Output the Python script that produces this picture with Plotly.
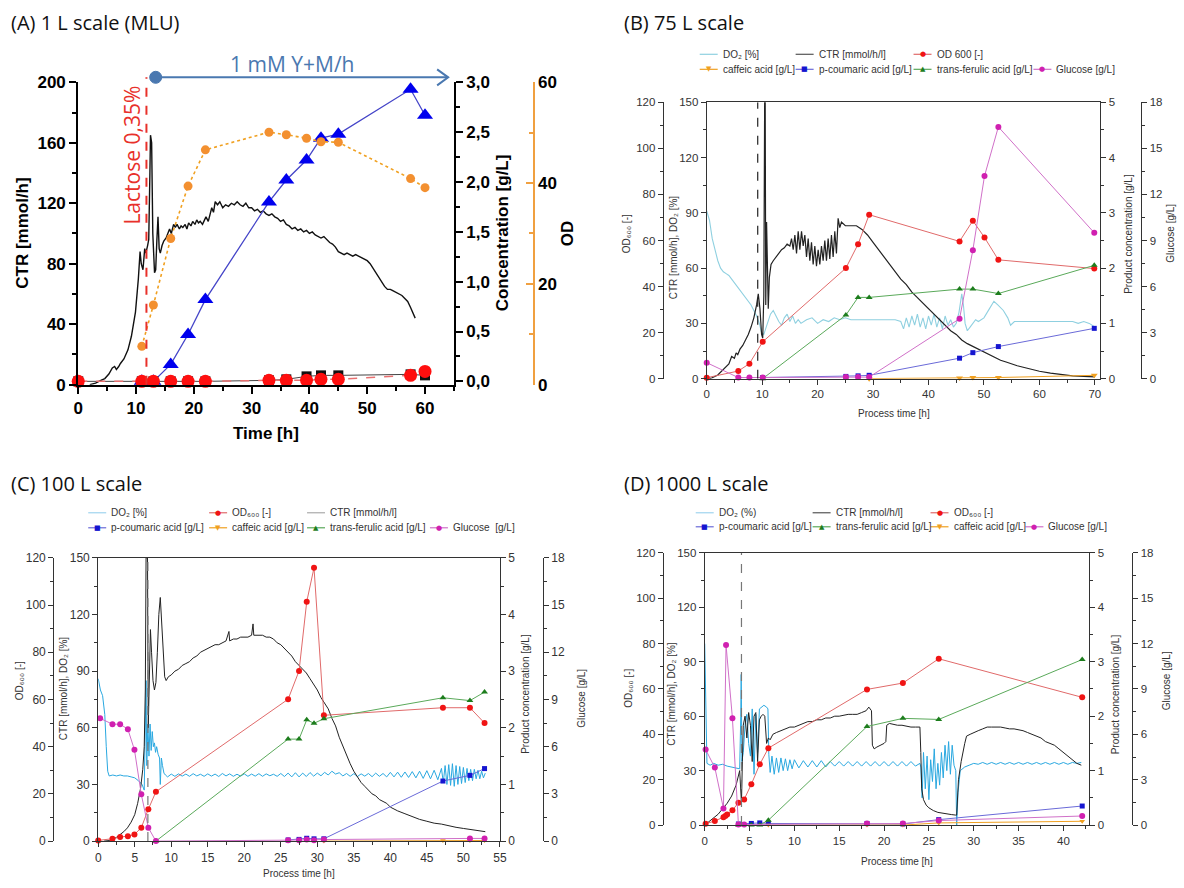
import plotly.graph_objects as go

W, H = 1184, 888

# ======================= DATA =======================
# ---- (A) 1 L scale (MLU) ----
a_ctr = [(2,0),(3,1),(4,3),(4.6,4),(5.3,7),(5.9,11),(6.3,12),(6.6,10),(7.0,12),(7.3,14),(7.9,17),(8.6,23),
         (9.2,32),(9.9,48),(10.4,70),(10.7,88),(10.9,80),(11.2,76),(11.5,90),(11.7,87),(12.0,92),(12.2,96),
         (12.4,140),(12.5,165),(12.7,160),(12.9,100),(13.2,74),(13.4,76),(13.6,95),(13.8,111),(14.0,90),
         (14.2,87),(14.5,92),(14.8,95),(15.2,97),(15.5,100),(15.8,103),(16.1,100),(16.5,106),(16.8,104),
         (17.1,106),(17.5,103),(17.8,105),(18.1,104),(18.5,106),(18.8,103),(19.1,107),(19.5,105),(19.8,108),
         (20.2,106),(20.5,109),(20.8,107),(21.1,108),(21.5,106),(21.8,109),(22.1,111),(22.5,108),(22.8,112),
         (23.1,117),(23.4,114),(23.7,121),(24.1,119),(24.5,121),(25,117),(25.5,119),(26,118),(26.5,120),
         (27,119),(27.5,121),(28,119),(28.5,118),(29,120),(29.5,117),(30,117),(30.5,115),(31,116),(31.5,114),
         (32,115),(32.5,113),(33,112),(33.5,113),(34,111),(34.5,110),(35,108),(35.5,109),(36,106),(36.5,105),
         (37,103),(37.5,104),(38,102),(38.5,103),(39,101),(39.5,102),(40,100),(40.5,101),(41,99),(41.5,98),
         (42,97),(42.5,98),(43,96),(43.5,94),(44,93),(44.5,91),(45,88),(45.5,87),(46,86),(46.5,87),(47,86),
         (47.5,85),(48,86),(48.5,85),(49,84),(49.5,83),(50,82),(50.5,80),(51,77),(51.5,74),(52,71),(52.5,68),
         (53,65),(53.5,63),(54,63),(54.5,62),(55,61),(55.5,60),(56,59),(56.5,57),(57,55),(57.5,51),(58,47),(58.3,44)]
a_t = [0, 11, 13, 16, 19, 22, 33, 36, 39.5, 42, 45, 57.5, 60]
a_red = [0.0, 0.0, 0.0, 0.0, 0.0, 0.0, 0.01, 0.01, 0.01, 0.02, 0.02, 0.06, 0.10]
a_black = [0.0, 0.0, 0.0, 0.0, 0.0, 0.0, 0.01, 0.02, 0.05, 0.06, 0.06, 0.07, 0.06]
a_blue_t = [11, 13, 16, 19, 22, 33, 36, 39.5, 42, 45, 57.5, 60]
a_blue = [0.0, 0.0, 0.17, 0.47, 0.82, 1.80, 2.02, 2.22, 2.44, 2.48, 2.93, 2.67]
a_od_t = [11, 13, 16, 19, 22, 33, 36, 39.5, 42, 45, 57.5, 60]
a_od = [7.6, 15.8, 29.0, 39.4, 46.6, 50.1, 49.6, 48.9, 48.2, 48.1, 40.9, 39.1]
a_lactose_t = 11.8
a_feed_start, a_feed_end = 13.4, 64.0
a_conc_ticks = [0, 0.5, 1.0, 1.5, 2.0, 2.5, 3.0]
a_conc_labels = ['0,0', '0,5', '1,0', '1,5', '2,0', '2,5', '3,0']

# ---- (B) 75 L scale ----
b_do2 = [(0,91),(0.5,86),(1,76),(1.5,70),(2,64),(2.5,60),(3,58),(3.5,57),(4,56),(4.5,54),(5,52),(5.5,50),(6,48),
         (6.5,46),(7,44),(7.5,42),(8,40),(8.5,37),(9,34),(9.5,30),(9.9,25),(10.3,24),(10.6,27),(11,30),(11.5,35),
         (12,37),(12.5,34),(13,31),(13.5,29),(14,33),(14.5,35),(15,31),(15.5,34),(16,30),(16.5,32),(17,30),(18,32),
         (19,33),(20,30),(21,32),(22,31),(23,33),(24,32),(25,33),(26,32),(28,32),(30,32),(32,32),(34,32),(35,31),
         (35.5,27),(36,33),(36.5,28),(37,34),(37.5,29),(38,35),(38.5,28),(39,33),(39.5,27),(40,34),(40.5,29),(41,35),
         (41.5,28),(42,33),(42.5,27),(43,34),(43.5,29),(44,32),(44.5,28),(45,30),(45.5,36),(46,46),(46.3,40),
         (46.6,30),(47,26),(47.5,28),(48,30),(48.5,32),(49,31),(50,33),(51,38),(51.8,42),(52.5,40),(53.5,37),
         (54.3,33),(54.8,29),(55.5,31),(58,31),(62,31),(66,31),(67,30),(68,31),(69,30),(69.5,29),(70,28)]
b_ctr = [(0.5,0),(1,0.5),(2,2),(3,5),(4,8),(4.5,12),(5,11),(5.3,14),(5.6,13),(6,16),(6.5,18),(7,21),(7.5,24),(8,28),
         (8.5,33),(9,40),(9.3,46),(9.6,38),(9.9,24),(10.1,22),(10.3,45),(10.45,150),(10.55,150),(10.65,40),(10.8,85),
         (10.95,62),(11.1,38),(11.3,55),(11.6,62),(12,64),(12.5,66),(13,68),(13.5,70),(14,71),(14.5,73),(15,72),
         (15.3,76),(15.6,70),(15.9,78),(16.2,68),(16.5,80),(16.8,70),(17.1,80),(17.4,72),(17.7,78),(18,66),(18.3,76),
         (18.6,64),(18.9,74),(19.2,62),(19.5,72),(19.8,61),(20.1,70),(20.4,62),(20.7,72),(21,64),(21.3,75),(21.6,64),
         (21.9,76),(22.2,65),(22.5,78),(22.8,66),(23.1,80),(23.4,68),(23.7,87),(24,82),(24.3,85),(25,83),(26,83),
         (27,83),(28,81),(29,78),(30,74),(31,70),(32,66),(33,62),(34,58),(35,54),(36,51),(37,47),(38,44),(39,41),
         (40,38),(41,35),(42,32),(43,29),(44,26),(45,24),(46,21),(47,19),(48,17.5),(49,16),(50,14.5),(51,13),
         (52,11.5),(53,10),(54,9),(55,8),(56,7),(58,5.5),(60,4),(62,3),(64,2.2),(66,1.5),(68,1.2),(70,1)]
b_t = [0, 5.7, 7.7, 10.1, 25.1, 27.3, 29.3, 45.6, 48.0, 50.1, 52.6, 69.9]
b_od = [0.4, 3.3, 6.5, 16, 48, 58.4, 71.2, 59.6, 68.6, 61.3, 51.6, 47.8]
b_glc = [1.04, 0.07, 0.07, 0.07, 0.1, 0.1, 0.1, 3.9, 8.37, 13.2, 16.4, 9.5]
b_prod_t = [10.1, 25.1, 27.3, 29.3, 45.6, 48.0, 52.6, 69.9]
b_cou = [0.02, 0.04, 0.05, 0.06, 0.37, 0.47, 0.58, 0.91]
b_fer = [0.0, 1.15, 1.47, 1.47, 1.62, 1.62, 1.54, 2.05]
b_caf_t = [29.3, 45.6, 48.0, 52.6, 69.9]
b_caf = [0.0, 0.01, 0.02, 0.02, 0.06]
b_induction_t = 9.2

# ---- (C) 100 L scale ----
c_do2 = [(0,86),(0.3,80),(0.6,77),(0.9,67),(1.1,50),(1.3,37),(1.5,34.5),(2,35),(2.5,34.5),(3,35),(3.5,34.5),(4,34.5),
         (4.5,34),(5,33.5),(5.5,32),(6,30),(6.3,27),(6.45,55),(6.55,85),(6.65,40),(6.8,62),(6.95,45),(7.1,62),(7.25,48),
         (7.4,58),(7.55,50),(7.7,52),(7.85,47),(8.0,50),(8.2,46),(8.4,44),(8.5,30),(8.65,44),(8.8,40),(9.0,36),(9.2,35),
         (9.5,34),(10,35.5),(10.5,34.3),(11,35.6),(11.5,34.4),(12,35.5),(12.5,34.3),(13,35.7),(13.5,34.5),(14,35.4),
         (14.5,34.3),(15,35.6),(15.5,34.4),(16,35.5),(16.5,34.2),(17,35.8),(17.5,34.5),(18,35.6),(18.5,34.3),(19,35.4),
         (19.5,34.4),(20,35.6),(20.5,34.3),(21,35.5),(21.5,34.4),(22,35.7),(22.5,34.3),(23,35.6),(23.5,34.6),(24,35.4),
         (24.5,34.3),(25,35.8),(25.5,34.2),(26,36),(26.5,34),(27,36.2),(27.5,34),(28,36),(28.5,34.2),(29,36.3),
         (29.5,34.4),(30,36),(30.5,34.6),(31,36.4),(31.5,35),(32,37),(32.5,35.5),(33,36.2),(33.5,34.5),(34,35.8),
         (34.5,34.3),(35,35.7),(35.5,34.2),(36,35.6),(36.5,34.4),(37,35.8),(37.5,34.1),(38,36),(38.5,34.3),(39,35.8),
         (39.5,34),(40,36.4),(40.5,34),(41,36.5),(41.5,33.8),(42,36.6),(42.5,33.7),(43,36.8),(43.5,33.5),(44,37),
         (44.5,33.2),(45,37.3),(45.5,33),(46,37.5),(46.5,32.5),(47,38.5),(47.25,31),(47.5,40),(47.75,30),(48,40.5),
         (48.25,29.5),(48.5,41),(48.75,29),(49,40),(49.25,30),(49.5,39.5),(49.75,30.5),(50,39),(50.25,31),(50.5,38.5),
         (50.75,32),(51,38),(51.25,32),(51.5,38),(51.75,33),(52,37.5),(52.25,33),(52.5,37),(52.75,33.5),(53,36)]
c_ctr = [(0.8,0),(1.5,0.3),(2,1),(2.5,2),(3,3.5),(3.5,5),(4,7),(4.5,10),(5,14),(5.4,20),(5.8,28),(6.1,38),(6.3,50),
         (6.45,80),(6.55,150),(6.75,150),(6.85,60),(7.0,95),(7.15,112),(7.3,100),(7.5,85),(7.7,80),(7.9,84),(8.1,100),
         (8.3,120),(8.5,129),(8.7,115),(8.9,98),(9.1,87),(9.3,85),(9.6,87),(10,88),(10.5,90),(11,91),(11.5,93),(12,94),
         (12.5,95),(13,97),(13.5,98),(14,100),(14.5,101),(15,102),(15.5,103),(16,104),(16.5,104),(17,105),(17.5,106),
         (17.9,111),(18,106),(18.5,107),(19,107),(19.5,108),(20,108),(20.5,108),(21,109),(21.2,115),(21.3,109),
         (21.5,109),(22,109),(22.5,109),(23,108),(23.5,108),(24,107),(24.5,105),(25,104),(25.5,102),(26,100),
         (26.5,98),(27,95),(27.5,93),(28,91),(28.5,89),(29,86),(29.5,83),(30,80),(30.5,76),(31,73),(31.5,70),(32,65),
         (32.5,61),(33,55),(33.5,50),(34,45),(34.5,41),(35,37),(35.5,34),(36,31),(36.5,29),(37,27),(37.5,25),(38,24),
         (38.5,22),(39,21),(39.5,20),(40,18),(41,16),(42,14.5),(43,13),(44,11.5),(45,10.5),(46,9.5),(47,9),(48,8),
         (49,7.3),(50,6.7),(51,6),(52,5.5),(53,5)]
c_od_t = [0, 1.95, 3.0, 4.06, 4.96, 5.9, 6.86, 7.9, 26, 27.5, 28.55, 29.55, 30.9, 47.2, 50.9, 52.9]
c_od = [0.3, 1.0, 1.7, 2.1, 2.8, 5.7, 13.5, 20.9, 60.1, 72.1, 101.4, 115.8, 53.3, 56.5, 56.5, 50]
c_glc_t = [0.26, 1.95, 3.0, 4.06, 4.96, 5.9, 6.86, 7.9, 26, 27.5, 28.55, 29.55, 30.9, 50.9, 52.9]
c_glc = [7.8, 7.43, 7.43, 7.11, 5.8, 2.97, 0.85, 0.0, 0.06, 0.06, 0.1, 0.06, 0.1, 0.17, 0.17]
c_fer_t = [7.9, 26, 27.5, 28.55, 29.55, 30.9, 47.2, 50.9, 52.9]
c_fer = [0.0, 1.80, 1.80, 2.14, 2.08, 2.16, 2.53, 2.48, 2.63]
c_cou_t = [26, 27.5, 28.55, 29.55, 30.9, 47.2, 50.9, 52.9]
c_cou = [0.02, 0.03, 0.05, 0.04, 0.04, 1.06, 1.16, 1.28]
c_caf_t = [30.9, 47.2, 50.9, 52.9]
c_caf = [0.0, 0.01, 0.01, 0.01]
c_induction_t = 6.8

# ---- (D) 1000 L scale ----
d_do2 = [(0,100),(0.12,60),(0.25,34),(0.6,33),(1,34),(1.5,33),(2,33.5),(2.5,32.5),(3,32),(3.5,31.5),(3.9,31),(4.02,60),
         (4.07,83),(4.15,35),(4.3,40),(4.5,55),(4.7,61),(4.9,45),(5.1,38),(5.3,64),(5.5,28),(5.7,61),(5.9,40),(6.1,64),
         (6.3,65),(6.6,66),(6.9,65),(7.05,64),(7.15,39),(7.3,29),(7.5,38),(7.75,28),(8,37),(8.25,29),(8.5,37),
         (8.75,30),(9,36.5),(9.25,30),(9.5,36),(9.75,31),(10,36),(10.5,31.5),(11,35.5),(11.5,32),(12,35.5),(12.5,32),
         (13,35.5),(13.5,32),(14,35),(14.5,32.5),(15,35),(15.5,32.5),(16,35),(16.5,32.5),(17,35),(17.5,32.5),(18,35),
         (18.5,32.5),(19,35),(19.5,32.5),(20,35),(20.5,32.5),(21,35),(21.5,32.5),(22,35),(22.5,32.5),(23,35),
         (23.5,32.5),(24,34),(24.1,32),(24.25,15),(24.4,40),(24.6,20),(24.8,38),(25,14),(25.2,36),(25.4,24),(25.6,42),
         (25.8,20),(26,34),(26.2,22),(26.4,40),(26.6,26),(26.8,44),(27,30),(27.2,46),(27.4,28),(27.6,44),(27.8,33),
         (28,30),(28.1,0),(28.25,18),(28.5,30),(29,32),(29.5,33),(30,34),(30.5,33.5),(31,34.5),(31.5,33.5),(32,34.5),
         (32.5,33.5),(33,34.5),(33.5,33.5),(34,34.5),(34.5,33.5),(35,34.5),(35.5,33.5),(36,34.5),(36.5,33.5),(37,34.5),
         (37.5,33.5),(38,34.5),(38.5,33.5),(39,34.5),(39.5,33.5),(40,34.5),(40.5,33.5),(41,34.5),(41.5,34),(42,34.5)]
d_ctr = [(0,0),(0.5,2),(1,4),(1.5,6),(2,9),(2.5,12),(3,16),(3.5,22),(3.9,30),(4.0,20),(4.1,12),(4.2,35),(4.3,55),
         (4.5,60),(4.7,48),(4.9,62),(5.1,55),(5.3,35),(5.5,60),(5.7,62),(5.9,35),(6.1,58),(6.3,60),(6.5,61),(6.7,60),
         (6.9,45),(7.1,48),(7.3,47),(7.6,50),(8,51),(8.5,52),(9,53),(9.5,54),(10,54),(10.5,55),(11,56),(11.5,57),
         (12,57),(12.5,58),(13,58),(13.5,59),(14,59),(14.5,60),(15,60),(15.5,60.5),(16,61),(16.5,61),(17,61),
         (17.5,62),(18,63),(18.3,65),(18.6,63),(18.7,44),(18.9,42),(19.2,43),(19.6,44),(20,45),(20.2,46),(20.3,55),
         (20.6,56),(21,55.5),(21.5,55),(22,55),(22.5,54.5),(23,54),(23.5,54),(24,54),(24.1,40),(24.2,20),(24.4,14),
         (24.7,11),(25,9.5),(25.5,8),(26,7),(26.5,6.5),(27,6),(27.5,5.8),(28,5.5),(28.1,5.5),(28.3,25),(28.6,35),
         (29,45),(29.2,49),(29.6,50),(30,51),(30.5,52),(31,53),(31.5,54),(32,54),(32.5,54),(33,54),(33.5,53.5),
         (34,53),(34.5,53),(35,52.5),(35.5,52),(36,51),(36.5,50),(37,49),(37.5,48),(38,46),(38.5,45),(39,44),
         (39.5,42),(40,40),(40.5,38),(41,36),(41.5,34),(42,33)]
d_od_t = [0.1, 1.13, 2.09, 2.3, 2.5, 3.09, 3.76, 4.4, 5.2, 6.14, 7.1, 18.1, 22.1, 26.1, 42.1]
d_od = [0.6, 1.8, 3.5, 4.0, 4.7, 6.5, 9.9, 11.3, 18, 26.8, 33.9, 59.8, 62.6, 73.3, 56.3]
d_glc_t = [0.1, 1.13, 2.09, 2.38, 3.09, 3.76, 4.4, 18.1, 22.1, 26.1, 42.1]
d_glc = [5.0, 3.8, 1.1, 11.9, 7.07, 0.04, 0.04, 0.1, 0.1, 0.3, 0.6]
d_fer_t = [3.76, 5.2, 6.14, 7.1, 18.1, 22.1, 26.1, 42.1]
d_fer = [0.0, 0.0, 0.0, 0.09, 1.81, 1.96, 1.94, 3.04]
d_cou_t = [3.76, 5.2, 6.14, 7.1, 18.1, 22.1, 26.1, 42.1]
d_cou = [0.02, 0.03, 0.04, 0.03, 0.03, 0.02, 0.1, 0.35]
d_caf_t = [7.1, 18.1, 22.1, 26.1, 42.1]
d_caf = [0.0, 0.0, 0.0, 0.04, 0.07]
d_induction_t = 4.1

# ======================= STYLE =======================
# layout positions below are given in reference-image pixels; these map them onto the page
def fx(p):
    return ((p - 3.7) / 0.9907) / W

def fy(p):
    return 1 - ((p - 8.75) / 0.9776) / H

RED_M, RED_L = '#f01414', '#e06a6a'
BLUE_M, BLUE_L = '#1515d0', '#6a6ad8'
GREEN_M, GREEN_L = '#1d7d1d', '#5aa95a'
ORANGE = '#f0a020'
MAG_M, MAG_L = '#d020b0', '#d070c8'
DO2_B = '#8fd0e0'
DO2_CD = '#2aa8e0'
CTR_C = '#222222'
FEED = '#4a78b0'
LACT = '#e8302a'

fig = go.Figure()


def add_line(pairs, xa, ya, color, width=1.0, dash=None):
    fig.add_trace(go.Scatter(x=[p[0] for p in pairs], y=[p[1] for p in pairs], xaxis=xa, yaxis=ya,
                             mode='lines', line=dict(color=color, width=width, dash=dash),
                             showlegend=False, hoverinfo='skip'))


def add_pts(t, v, xa, ya, lcolor, mcolor, symbol, size, lwidth=1.0, dash=None):
    fig.add_trace(go.Scatter(x=t, y=v, xaxis=xa, yaxis=ya, mode='lines+markers',
                             line=dict(color=lcolor, width=lwidth, dash=dash),
                             marker=dict(color=mcolor, symbol=symbol, size=size, line=dict(width=0)),
                             showlegend=False, hoverinfo='skip', cliponaxis=False))

# ---- Panel A traces ----
add_line(a_ctr, 'x', 'y', '#111111', 1.4)
add_pts(a_blue_t, a_blue, 'x', 'y2', '#4545c8', '#0000ee', 'triangle-up', 14, 1.3)
add_pts(a_t, a_black, 'x', 'y2', '#444444', '#111111', 'square', 10, 1.0)
add_pts(a_t, a_red, 'x', 'y2', '#e87070', '#ff0f0f', 'circle', 13, 1.5, 'dash')
add_pts(a_od_t, a_od, 'x', 'y3', ORANGE, '#f39030', 'circle', 9, 1.6, 'dot')

# ---- Panel B traces ----
add_line(b_do2, 'x2', 'y4', DO2_B, 1.1)
add_line(b_ctr, 'x2', 'y4', CTR_C, 1.2)
add_pts(b_t, b_od, 'x2', 'y5', RED_L, RED_M, 'circle', 6)
add_pts(b_caf_t, b_caf, 'x2', 'y6', ORANGE, ORANGE, 'triangle-down', 6)
add_pts(b_prod_t, b_cou, 'x2', 'y6', BLUE_L, BLUE_M, 'square', 5)
add_pts(b_prod_t, b_fer, 'x2', 'y6', GREEN_L, GREEN_M, 'triangle-up', 6)
add_pts(b_t, b_glc, 'x2', 'y7', MAG_L, MAG_M, 'circle', 6)

# ---- Panel C traces ----
add_line(c_do2, 'x3', 'y8', DO2_CD, 1.0)
add_line(c_ctr, 'x3', 'y8', CTR_C, 1.0)
add_pts(c_od_t, c_od, 'x3', 'y9', RED_L, RED_M, 'circle', 6)
add_pts(c_cou_t, c_cou, 'x3', 'y10', BLUE_L, BLUE_M, 'square', 5)
add_pts(c_caf_t, c_caf, 'x3', 'y10', ORANGE, ORANGE, 'triangle-down', 5)
add_pts(c_fer_t, c_fer, 'x3', 'y10', GREEN_L, GREEN_M, 'triangle-up', 6)
add_pts(c_glc_t, c_glc, 'x3', 'y11', MAG_L, MAG_M, 'circle', 6)

# ---- Panel D traces ----
add_line(d_do2, 'x4', 'y12', DO2_CD, 1.0)
add_line(d_ctr, 'x4', 'y12', CTR_C, 1.0)
add_pts(d_od_t, d_od, 'x4', 'y13', RED_L, RED_M, 'circle', 6)
add_pts(d_cou_t, d_cou, 'x4', 'y14', BLUE_L, BLUE_M, 'square', 5)
add_pts(d_fer_t, d_fer, 'x4', 'y14', GREEN_L, GREEN_M, 'triangle-up', 6)
add_pts(d_caf_t, d_caf, 'x4', 'y14', ORANGE, ORANGE, 'triangle-down', 5)
add_pts(d_glc_t, d_glc, 'x4', 'y15', MAG_L, MAG_M, 'circle', 6)

# ======================= AXES =======================
SANS = 'Liberation Sans, Arial, DejaVu Sans, sans-serif'
TICKF = dict(family=SANS, size=11.5, color='#333333')
TICKF_C = dict(family=SANS, size=12, color='#333333')
BOLDF = dict(family=SANS, size=17, color='#000000', weight='bold')


def minor(dt, ticks='outside', color='#333333', ln=3, w=1):
    return dict(ticks=ticks, ticklen=ln, tickwidth=w, tickcolor=color, dtick=dt, tick0=0, showgrid=False)


def ax(**kw):
    d = dict(showline=True, linecolor='#333333', linewidth=1.1, ticks='outside', ticklen=5, tickwidth=1.1,
             tickcolor='#333333', showgrid=False, zeroline=False, tickfont=TICKF, fixedrange=True)
    d.update(kw)
    return d


def axA(**kw):
    d = dict(showline=True, linecolor='#000000', linewidth=2, ticks='outside', ticklen=7, tickwidth=2,
             tickcolor='#000000', showgrid=False, zeroline=False, tickfont=BOLDF, fixedrange=True)
    d.update(kw)
    return d

layout_axes = dict(
    # Panel A
    xaxis=axA(domain=[fx(77), fx(453)], range=[0, 65], tick0=0, dtick=10, anchor='y',
              minor=minor(5, color='#000000', ln=4, w=1.5)),
    yaxis=axA(domain=[fy(384), fy(82)], range=[0, 200], tick0=0, dtick=40, anchor='x',
              minor=minor(20, color='#000000', ln=4, w=1.5)),
    yaxis2=axA(overlaying='y', side='right', anchor='x', range=[-0.033, 3.0], tickvals=a_conc_ticks,
               ticktext=a_conc_labels, minor=minor(0.25, color='#000000', ln=4, w=1.5)),
    yaxis3=axA(overlaying='y', side='right', anchor='free', position=fx(533), range=[0, 60], tick0=0, dtick=20,
               ticks='inside', linecolor='#f0a040', tickcolor='#f0a040', linewidth=1.5, tickwidth=1.5,
               minor=minor(10, ticks='inside', color='#f0a040', ln=4, w=1.5)),
    # Panel B
    xaxis2=ax(domain=[fx(706), fx(1100)], range=[0, 71], tick0=0, dtick=10, anchor='y4', mirror=True, minor=minor(5)),
    yaxis4=ax(domain=[fy(378), fy(102)], range=[0, 150], tick0=0, dtick=30, anchor='x2', minor=minor(15)),
    yaxis5=ax(overlaying='y4', anchor='free', position=fx(662), side='left', range=[0, 120], tick0=0, dtick=20,
              minor=minor(10)),
    yaxis6=ax(overlaying='y4', anchor='x2', side='right', range=[0, 5], tick0=0, dtick=1, minor=minor(0.5)),
    yaxis7=ax(overlaying='y4', anchor='free', position=fx(1141), side='right', range=[0, 18], tick0=0, dtick=3,
              minor=minor(1.5)),
    # Panel C
    xaxis3=ax(domain=[fx(97), fx(499)], range=[0, 55], tick0=0, dtick=5, anchor='y8', mirror=True, minor=minor(2.5),
              tickfont=TICKF_C),
    yaxis8=ax(domain=[fy(840), fy(557)], range=[0, 150], tick0=0, dtick=30, anchor='x3', minor=minor(15),
              tickfont=TICKF_C),
    yaxis9=ax(overlaying='y8', anchor='free', position=fx(52), side='left', range=[0, 120], tick0=0, dtick=20,
              minor=minor(10), tickfont=TICKF_C),
    yaxis10=ax(overlaying='y8', anchor='x3', side='right', range=[0, 5], tick0=0, dtick=1, minor=minor(0.5),
               tickfont=TICKF_C),
    yaxis11=ax(overlaying='y8', anchor='free', position=fx(542), side='right', range=[0, 18], tick0=0, dtick=3,
               minor=minor(1.5), tickfont=TICKF_C),
    # Panel D
    xaxis4=ax(domain=[fx(704), fx(1089)], range=[0, 42.9], tick0=0, dtick=5, anchor='y12', mirror=True,
              minor=minor(2.5)),
    yaxis12=ax(domain=[fy(824), fy(552)], range=[0, 150], tick0=0, dtick=30, anchor='x4', minor=minor(15)),
    yaxis13=ax(overlaying='y12', anchor='free', position=fx(662), side='left', range=[0, 120], tick0=0, dtick=20,
               minor=minor(10)),
    yaxis14=ax(overlaying='y12', anchor='x4', side='right', range=[0, 5], tick0=0, dtick=1, minor=minor(0.5)),
    yaxis15=ax(overlaying='y12', anchor='free', position=fx(1132), side='right', range=[0, 18], tick0=0, dtick=3,
               minor=minor(1.5)),
)

# ======================= ANNOTATIONS / SHAPES =======================
ann = []
shapes = []


def text(s, xp, yp, size=10, color='#333333', angle=0, xanchor='center', family=SANS, weight='normal'):
    ann.append(dict(text=s, x=fx(xp), y=fy(yp), xref='paper', yref='paper', showarrow=False, textangle=angle,
                    xanchor=xanchor, yanchor='middle',
                    font=dict(family=family, size=size, color=color, weight=weight)))

TITLEF = 'Open Sans, sans-serif'
text('(A) 1 L scale (MLU)', 8, 22, 20, '#111111', xanchor='left', family=TITLEF)
text('(B) 75 L scale', 621, 22, 20, '#111111', xanchor='left', family=TITLEF)
text('(C) 100 L scale', 8, 483, 20, '#111111', xanchor='left', family=TITLEF)
text('(D) 1000 L scale', 621, 483, 20, '#111111', xanchor='left', family=TITLEF)

# Panel A titles & annotations
text('CTR [mmol/h]', 21, 233, 17, '#000000', angle=-90, weight='bold')
text('Concentration [g/L]', 502, 232, 17, '#000000', angle=-90, weight='bold')
text('OD', 567, 233, 17, '#000000', angle=-90, weight='bold')
text('Time [h]', 265, 433, 17, '#000000', weight='bold')
text('Lactose 0,35%', 131, 155, 21, LACT, angle=-90, family=TITLEF)
text('1 mM Y+M/h', 291, 64, 21, FEED, family=TITLEF)

# feed arrow: line + start dot + open head (pixel-sized decorations anchored on data values)
shapes.append(dict(type='line', xref='x', yref='paper', x0=a_feed_start, x1=a_feed_end, y0=fy(77), y1=fy(77),
                   line=dict(color=FEED, width=2)))
shapes.append(dict(type='circle', xref='x', yref='paper', xsizemode='pixel', ysizemode='pixel',
                   xanchor=a_feed_start, yanchor=fy(77), x0=-6, x1=6, y0=-6, y1=6,
                   fillcolor=FEED, line=dict(color=FEED, width=1)))
shapes.append(dict(type='path', xref='x', yref='paper', xsizemode='pixel', ysizemode='pixel',
                   xanchor=a_feed_end, yanchor=fy(77), path='M -11,8 L 0,0 L -11,-8',
                   line=dict(color=FEED, width=2)))
shapes.append(dict(type='line', xref='x', yref='paper', x0=a_lactose_t, x1=a_lactose_t, y0=fy(384), y1=fy(77),
                   line=dict(color=LACT, width=2, dash='dash')))

# Panels B-D axis titles
for (od_x, od_y, ctr_x, ctr_y, pr_x, pr_y, gl_x, gl_y, pt_x, pt_y) in [
        (626, 233, 673, 247, 1128, 233, 1170, 233, 893, 413),
        (19, 680, 63, 687, 525, 693, 581, 697, 298, 872),
        (628, 687, 671, 693, 1116, 693, 1167, 680, 896, 860)]:
    text('OD\u2086\u2080\u2080 [-]', od_x, od_y, 10, angle=-90)
    text('CTR [mmol/h], DO\u2082 [%]', ctr_x, ctr_y, 10, angle=-90)
    text('Product concentration [g/L]', pr_x, pr_y, 10, angle=-90)
    text('Glucose [g/L]', gl_x, gl_y, 10, angle=-90)
    text('Process time [h]', pt_x, pt_y, 10)

# induction lines
for xr, yr, t0, col in [('x2', 'y4', b_induction_t, '#222222'), ('x3', 'y8', c_induction_t, '#777777'),
                        ('x4', 'y12', d_induction_t, '#777777')]:
    shapes.append(dict(type='line', xref=xr, yref=yr, x0=t0, x1=t0, y0=0, y1=150,
                       line=dict(color=col, width=1.2, dash='dash')))

# Manual legends (layout only)
GLYPH = {'circle': '\u25cf', 'square': '\u25a0', 'up': '\u25b2', 'down': '\u25bc'}


def legend_item(label, lcolor, mcolor, glyph, xp, yp):
    shapes.append(dict(type='line', xref='paper', yref='paper', x0=fx(xp), x1=fx(xp + 18), y0=fy(yp), y1=fy(yp),
                       line=dict(color=lcolor, width=1.2)))
    if glyph:
        ann.append(dict(text=GLYPH[glyph], x=fx(xp + 9), y=fy(yp), xref='paper', yref='paper', showarrow=False,
                        xanchor='center', yanchor='middle', font=dict(family='DejaVu Sans', size=7, color=mcolor)))
    text(label, xp + 21, yp, 10, xanchor='left')

legends = [
    # panel B
    ('DO\u2082 [%]', DO2_B, None, None, 699, 54),
    ('CTR [mmol/h/l]', '#555555', None, None, 795, 54),
    ('OD 600 [-]', RED_L, RED_M, 'circle', 913, 54),
    ('caffeic acid [g/L]', ORANGE, ORANGE, 'down', 699, 69),
    ('p-coumaric acid [g/L]', BLUE_L, BLUE_M, 'square', 795, 69),
    ('trans-ferulic acid [g/L]', GREEN_L, GREEN_M, 'up', 913, 69),
    ('Glucose [g/L]', MAG_L, MAG_M, 'circle', 1033, 69),
    # panel C
    ('DO\u2082 [%]', '#9fd4ee', None, None, 87, 512),
    ('OD\u2086\u2080\u2080 [-]', RED_L, RED_M, 'circle', 208, 512),
    ('CTR [mmol/h/l]', '#aaaaaa', None, None, 306, 512),
    ('p-coumaric acid [g/L]', BLUE_L, BLUE_M, 'square', 87, 527),
    ('caffeic acid [g/L]', ORANGE, ORANGE, 'down', 208, 527),
    ('trans-ferulic acid [g/L]', GREEN_L, GREEN_M, 'up', 306, 527),
    ('Glucose  [g/L]', MAG_L, MAG_M, 'circle', 429, 527),
    # panel D
    ('DO\u2082 (%)', '#9fd4ee', None, None, 695, 512),
    ('CTR [mmol/h/l]', '#555555', None, None, 812, 512),
    ('OD\u2086\u2080\u2080 [-]', RED_L, RED_M, 'circle', 930, 512),
    ('p-coumaric acid [g/L]', BLUE_L, BLUE_M, 'square', 695, 526),
    ('trans-ferulic acid [g/L]', GREEN_L, GREEN_M, 'up', 812, 526),
    ('caffeic acid [g/L]', ORANGE, ORANGE, 'down', 930, 526),
    ('Glucose [g/L]', MAG_L, MAG_M, 'circle', 1025, 526),
]
for lab, lc, mc, g, xp, yp in legends:
    legend_item(lab, lc, mc, g, xp, yp)

fig.update_layout(
    width=W, height=H, margin=dict(l=0, r=0, t=0, b=0),
    paper_bgcolor='white', plot_bgcolor='white', showlegend=False, hovermode=False,
    font=dict(family=SANS, size=11, color='#333333'),
    annotations=ann, shapes=shapes,
    **layout_axes,
)

fig.write_html("out.html")
